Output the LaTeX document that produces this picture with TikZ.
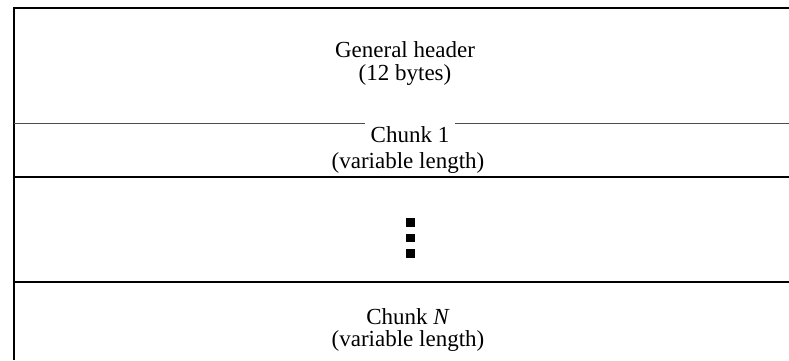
\documentclass[tikz,border=0pt]{standalone}
\usepackage{fontspec}
\setmainfont{Liberation Serif}
\begin{document}
\begin{tikzpicture}[x=1pt,y=-1pt,
  frame/.style={line width=2pt,black},
  thinrule/.style={line width=1.2pt,black!70},
  rule/.style={line width=1.8pt,black},
  lbl/.style={font=\fontsize{23}{25}\selectfont,inner sep=0pt,anchor=base},
  dotsq/.style={fill=black,minimum size=8.5pt,inner sep=0pt}]
\useasboundingbox (0,0) rectangle (789,360);
% frame corners
\coordinate (tl) at (13.5,7.5);
\coordinate (tr) at (789,7.5);
\coordinate (bl) at (13.5,360);
% row rules
\coordinate (r1l) at (13.5,123.5);
\coordinate (r1r) at (789,123.5);
\coordinate (r2l) at (13.5,177);
\coordinate (r2r) at (789,177);
\coordinate (r3l) at (13.5,282);
\coordinate (r3r) at (789,282);
\draw[frame] (bl) -- (tl) -- (tr);
\draw[thinrule] (r1l) -- (r1r);
\draw[rule] (r2l) -- (r2r);
\draw[rule] (r3l) -- (r3r);
% texts
\node[lbl] (gh1) at (405,57) {General header};
\node[lbl] (gh2) at (405,80) {(12 bytes)};
\node[lbl,fill=white,inner xsep=5.5pt,inner ysep=4pt] (c11) at (410,142) {Chunk 1};
\node[lbl] (c12) at (408,168) {(variable length)};
\node[lbl] (cn1) at (408,324) {Chunk \textit{N}};
\node[lbl] (cn2) at (408,346) {(variable length)};
% vertical ellipsis
\node[dotsq] (d1) at (410.5,222.5) {};
\node[dotsq] (d2) at (410.5,238) {};
\node[dotsq] (d3) at (410.5,253.5) {};
\end{tikzpicture}
\end{document}
